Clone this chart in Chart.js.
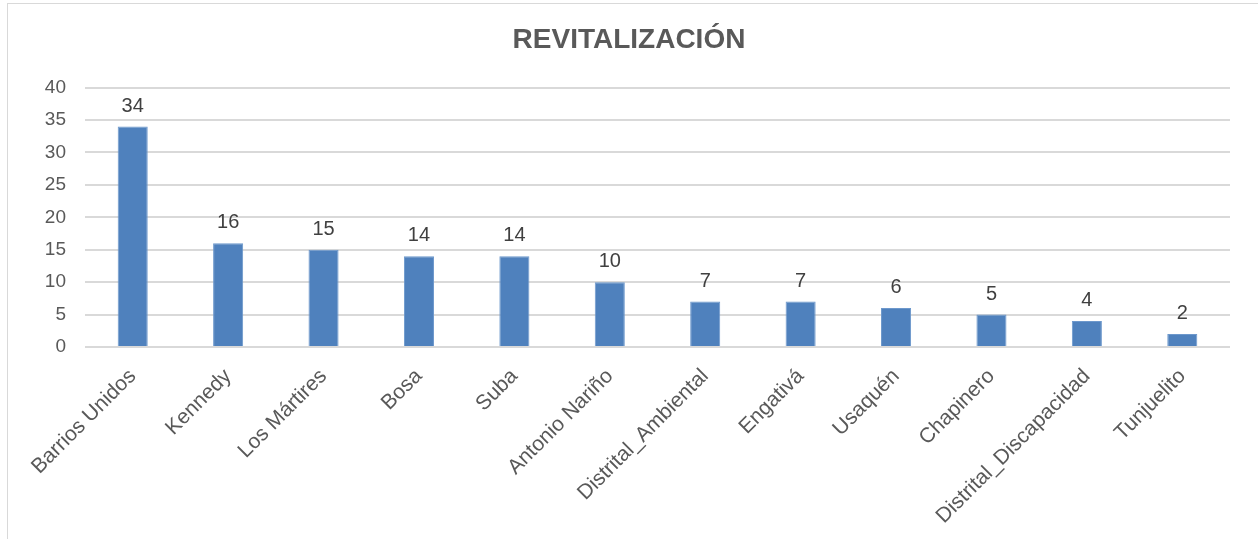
<!DOCTYPE html>
<html>
<head>
<meta charset="utf-8">
<script src="https://cdn.jsdelivr.net/npm/chart.js@4"></script>
<style>
  html, body { margin: 0; padding: 0; background: #fff; }
  #wrap { position: relative; width: 1258px; height: 539px; }
  #frame { position: absolute; left: 7px; top: 3px; width: 1260px; height: 540px;
           border-left: 1px solid #d9d9d9; border-top: 1px solid #d9d9d9; }
  canvas { position: absolute; left: 0; top: 0; }
</style>
</head>
<body>
<div id="wrap">
  <div id="frame"></div>
  <canvas id="revChart" width="1258" height="539"></canvas>
</div>
<script>
const categories = ['Barrios Unidos', 'Kennedy', 'Los Mártires', 'Bosa', 'Suba', 'Antonio Nariño',
  'Distrital_Ambiental', 'Engativá', 'Usaquén', 'Chapinero', 'Distrital_Discapacidad', 'Tunjuelito'];
const valores = [34, 16, 15, 14, 14, 10, 7, 7, 6, 5, 4, 2];
const titulo = 'REVITALIZACIÓN';

const fuente = '"Liberation Sans", Arial, sans-serif';

// etiquetas encima de cada barra
const etiquetas = {
  id: 'etiquetas',
  afterDatasetsDraw(chart) {
    const ctx = chart.ctx;
    const meta = chart.getDatasetMeta(0);
    ctx.save();
    ctx.font = '20px ' + fuente;
    ctx.fillStyle = '#404040';
    ctx.textAlign = 'center';
    ctx.textBaseline = 'alphabetic';
    meta.data.forEach((bar, i) => {
      ctx.fillText(valores[i], bar.x, bar.y - 15);
    });
    ctx.restore();
  }
};

const ctx = document.getElementById('revChart').getContext('2d');
new Chart(ctx, {
  type: 'bar',
  data: {
    labels: categories,
    datasets: [{
      data: valores,
      backgroundColor: '#4f81bd',
      borderColor: '#6d98cc',
      borderWidth: 1,
      categoryPercentage: 1,
      barPercentage: 0.315
    }]
  },
  options: {
    responsive: false,
    animation: false,
    layout: { padding: 0 },
    plugins: {
      legend: { display: false },
      tooltip: { enabled: false },
      title: {
        display: true,
        text: titulo,
        color: '#595959',
        font: { family: fuente, size: 28, weight: 'bold', lineHeight: 1.2 },
        padding: { top: 23, bottom: 31 }
      }
    },
    scales: {
      x: {
        grid: { display: false },
        border: { display: false },
        ticks: {
          color: '#595959',
          font: { family: fuente, size: 21 },
          minRotation: 45,
          maxRotation: 45,
          padding: 9,
          autoSkip: false
        },
        afterFit(scale) { scale.height = 192; }
      },
      y: {
        min: 0,
        max: 40,
        ticks: {
          stepSize: 5,
          color: '#595959',
          font: { family: fuente, size: 19 },
          padding: 19
        },
        grid: { color: '#d9d9d9', lineWidth: 2, drawTicks: false },
        border: { display: false },
        afterFit(scale) { scale.width = 85; }
      },
      // eje vacio a la derecha, solo para dejar el margen
      margen: {
        position: 'right',
        ticks: { display: false },
        grid: { display: false, drawTicks: false },
        border: { display: false },
        afterFit(scale) { scale.width = 28; }
      }
    }
  },
  plugins: [etiquetas]
});
</script>
</body>
</html>
